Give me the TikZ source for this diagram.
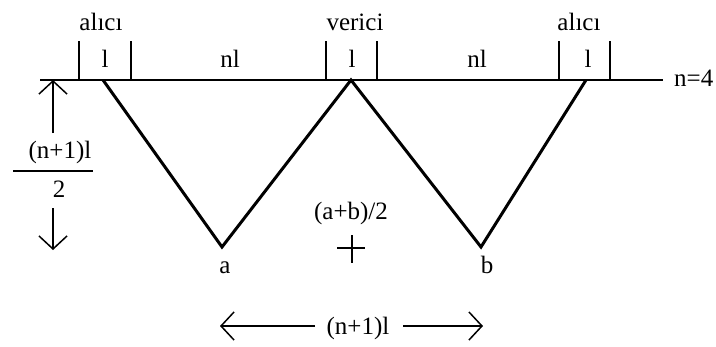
\documentclass[tikz,border=0pt]{standalone}
\usepackage{fontspec}
\setmainfont{Liberation Serif}
\usetikzlibrary{arrows.meta}

\tikzset{
  etiket/.style={anchor=base,inner sep=0pt,font=\fontsize{25}{29}\selectfont},
  ok/.style={-{Straight Barb[length=13pt,width=28pt,line width=1.5pt]},line width=1.5pt},
  kalin/.style={line width=3pt,line join=miter},
}

\begin{document}
\begin{tikzpicture}[x=1pt,y=-1pt]
    \useasboundingbox (0,0) rectangle (716,346);

    % Taban
    \coordinate (tsol) at (40,80);
    \coordinate (tsag) at (663,80);
    \draw[line width=2pt] (tsol) -- (tsag);
    \node[etiket,anchor=base west] (nd) at (674,86) {n=4};

    % Bölmeler
    \foreach \x in {79,131,326,377,559,610}
        \draw[line width=2pt] (\x,41) -- (\x,80);

    \node[etiket] (alici1) at (101,30) {alıcı};
    \node[etiket] (verici) at (355,30) {verici};
    \node[etiket] (alici2) at (579,30) {alıcı};

    \node[etiket] (l1) at (105,67) {l};
    \node[etiket] (nl1) at (230,67) {nl};
    \node[etiket] (l2) at (352,67) {l};
    \node[etiket] (nl2) at (477,67) {nl};
    \node[etiket] (l3) at (588,67) {l};

    % Yansıma yolu
    \coordinate (s1) at (103,80);
    \coordinate (a) at (222,247);
    \coordinate (v) at (351,80);
    \coordinate (b) at (481,247);
    \coordinate (s2) at (586,80);
    \draw[kalin] (s1) -- (a) -- (v) -- (b) -- (s2);

    \node[etiket] (alab) at (225,273) {a};
    \node[etiket] (blab) at (487,273) {b};

    % Orta nokta
    \node[etiket] (orta) at (351,219) {(a+b)/2};
    \draw[line width=1.5pt] (337,248) -- (365,248) (352,235) -- (352,263);

    % Derinlik
    \coordinate (y1) at (53,133);
    \coordinate (y2) at (53,80);
    \draw[ok] (y1) -- (y2);
    \node[etiket] (pay) at (60,158) {(n+1)l};
    \draw[line width=1.5pt] (13,171) -- (93,171);
    \node[etiket] (payda) at (59,197) {2};
    \coordinate (d1) at (53,208);
    \coordinate (d2) at (53,250);
    \draw[ok] (d1) -- (d2);

    % Aralık
    \node[etiket] (aralik) at (358,334) {(n+1)l};
    \coordinate (o1) at (315,326);
    \coordinate (o2) at (220,326);
    \coordinate (o3) at (403,326);
    \coordinate (o4) at (483,326);
    \draw[ok] (o1) -- (o2);
    \draw[ok] (o3) -- (o4);

\end{tikzpicture}
\end{document}
